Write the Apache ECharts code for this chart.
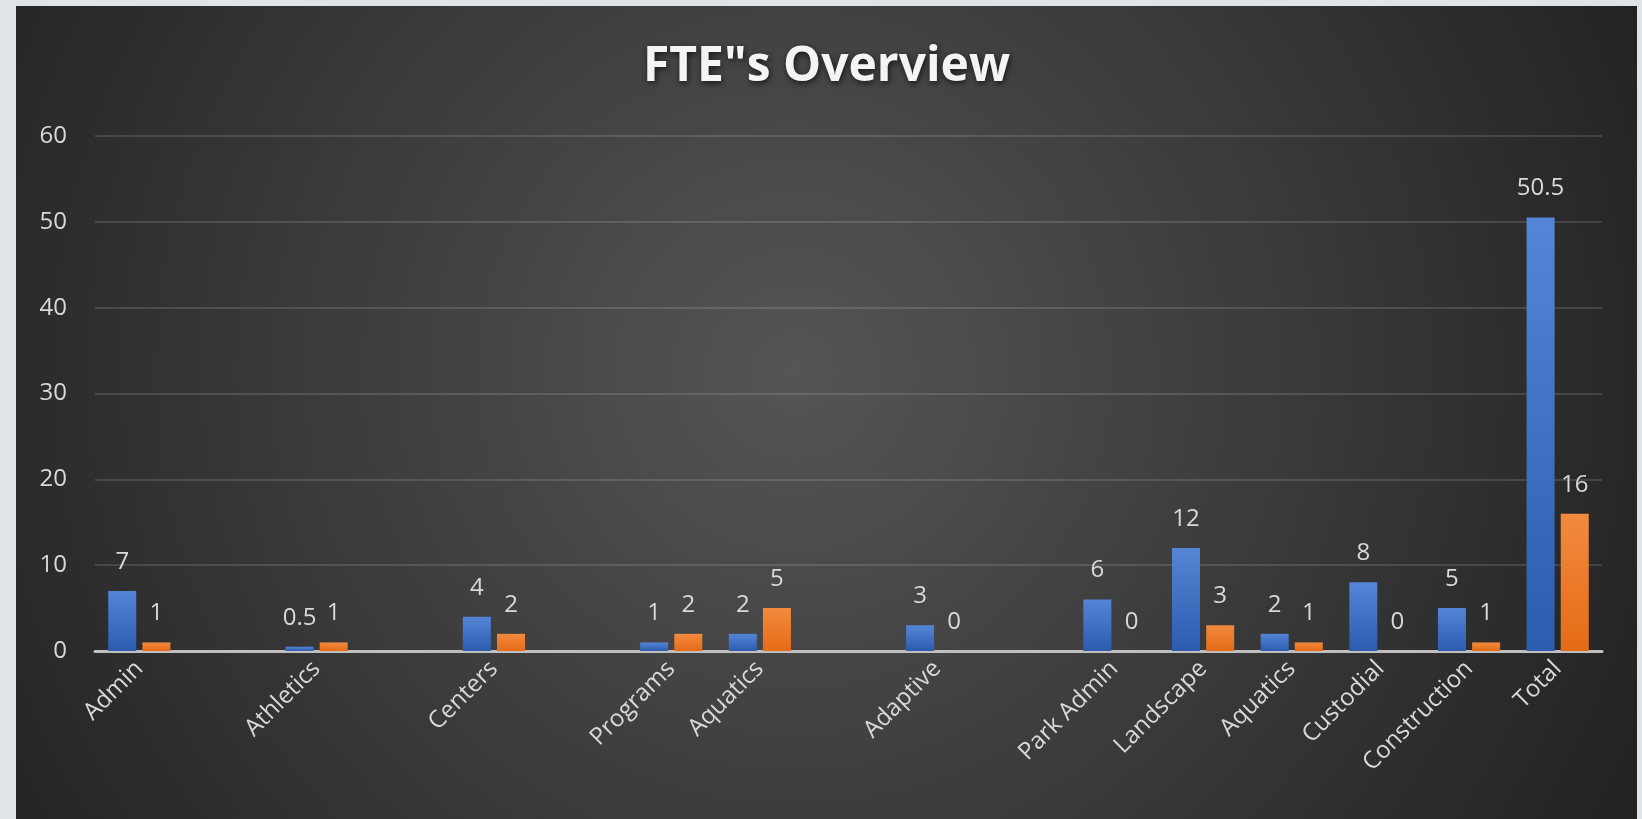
<!DOCTYPE html>
<html>
<head>
<meta charset="utf-8">
<script src="https://cdn.jsdelivr.net/npm/echarts@6/dist/echarts.min.js"></script>
<style>
  html, body { margin: 0; padding: 0; background: #dfe4e8; width: 1642px; height: 819px; overflow: hidden; }
  #chart { position: absolute; left: 16px; top: 6px; width: 1621px; height: 813px; }
</style>
</head>
<body>
<div id="chart"></div>
<script>
const categories = ['Admin', '', 'Athletics', '', 'Centers', '', 'Programs', 'Aquatics', '', 'Adaptive', '', 'Park Admin', 'Landscape', 'Aquatics', 'Custodial', 'Construction', 'Total'];
const seriesA = [7, null, 0.5, null, 4, null, 1, 2, null, 3, null, 6, 12, 2, 8, 5, 50.5];
const seriesB = [1, null, 1, null, 2, null, 2, 5, null, 0, null, 0, 3, 1, 0, 1, 16];
const yTicks = { min: 0, max: 60, interval: 10 };

const chart = echarts.init(document.getElementById('chart'));
const font = '"Open Sans", "Noto Sans", sans-serif';
const labelStyle = {
  show: true, position: 'top', distance: 17,
  color: '#d9d9d9', fontSize: 24, fontFamily: font
};
chart.setOption({
  backgroundColor: {
    type: 'radial', x: 0.48, y: 0.45, r: 1.15,
    colorStops: [{ offset: 0, color: '#555555' }, { offset: 1, color: '#222222' }]
  },
  title: {
    text: 'FTE"s Overview',
    left: 'center', top: 32,
    textStyle: {
      color: '#f4f4f4', fontSize: 48, fontWeight: 'bold', fontFamily: font,
      textShadowColor: 'rgba(0,0,0,0.7)', textShadowBlur: 6, textShadowOffsetX: 1, textShadowOffsetY: 2
    }
  },
  grid: { left: 79, top: 130, width: 1507, height: 515, containLabel: false },
  xAxis: {
    type: 'category',
    data: categories,
    axisTick: { show: false },
    axisLine: { lineStyle: { color: '#bfbfbf', width: 3 } },
    axisLabel: {
      interval: 0, rotate: 45, margin: 14,
      color: '#d9d9d9', fontSize: 24, fontFamily: font
    },
    splitLine: { show: false }
  },
  yAxis: {
    type: 'value',
    min: yTicks.min, max: yTicks.max, interval: yTicks.interval,
    axisLine: { show: false },
    axisTick: { show: false },
    axisLabel: { color: '#d9d9d9', fontSize: 24, fontFamily: font, margin: 28 },
    splitLine: { lineStyle: { color: 'rgba(255,255,255,0.13)', width: 2 } }
  },
  series: [
    {
      type: 'bar', data: seriesA, barWidth: 28, barGap: '22%',
      itemStyle: {
        color: { type: 'linear', x: 0, y: 0, x2: 0, y2: 1,
          colorStops: [{ offset: 0, color: '#5585d6' }, { offset: 1, color: '#2c5cb0' }] }
      },
      label: labelStyle
    },
    {
      type: 'bar', data: seriesB, barWidth: 28,
      itemStyle: {
        color: { type: 'linear', x: 0, y: 0, x2: 0, y2: 1,
          colorStops: [{ offset: 0, color: '#f28a3e' }, { offset: 1, color: '#e56b16' }] }
      },
      label: labelStyle
    }
  ]
});
</script>
</body>
</html>
